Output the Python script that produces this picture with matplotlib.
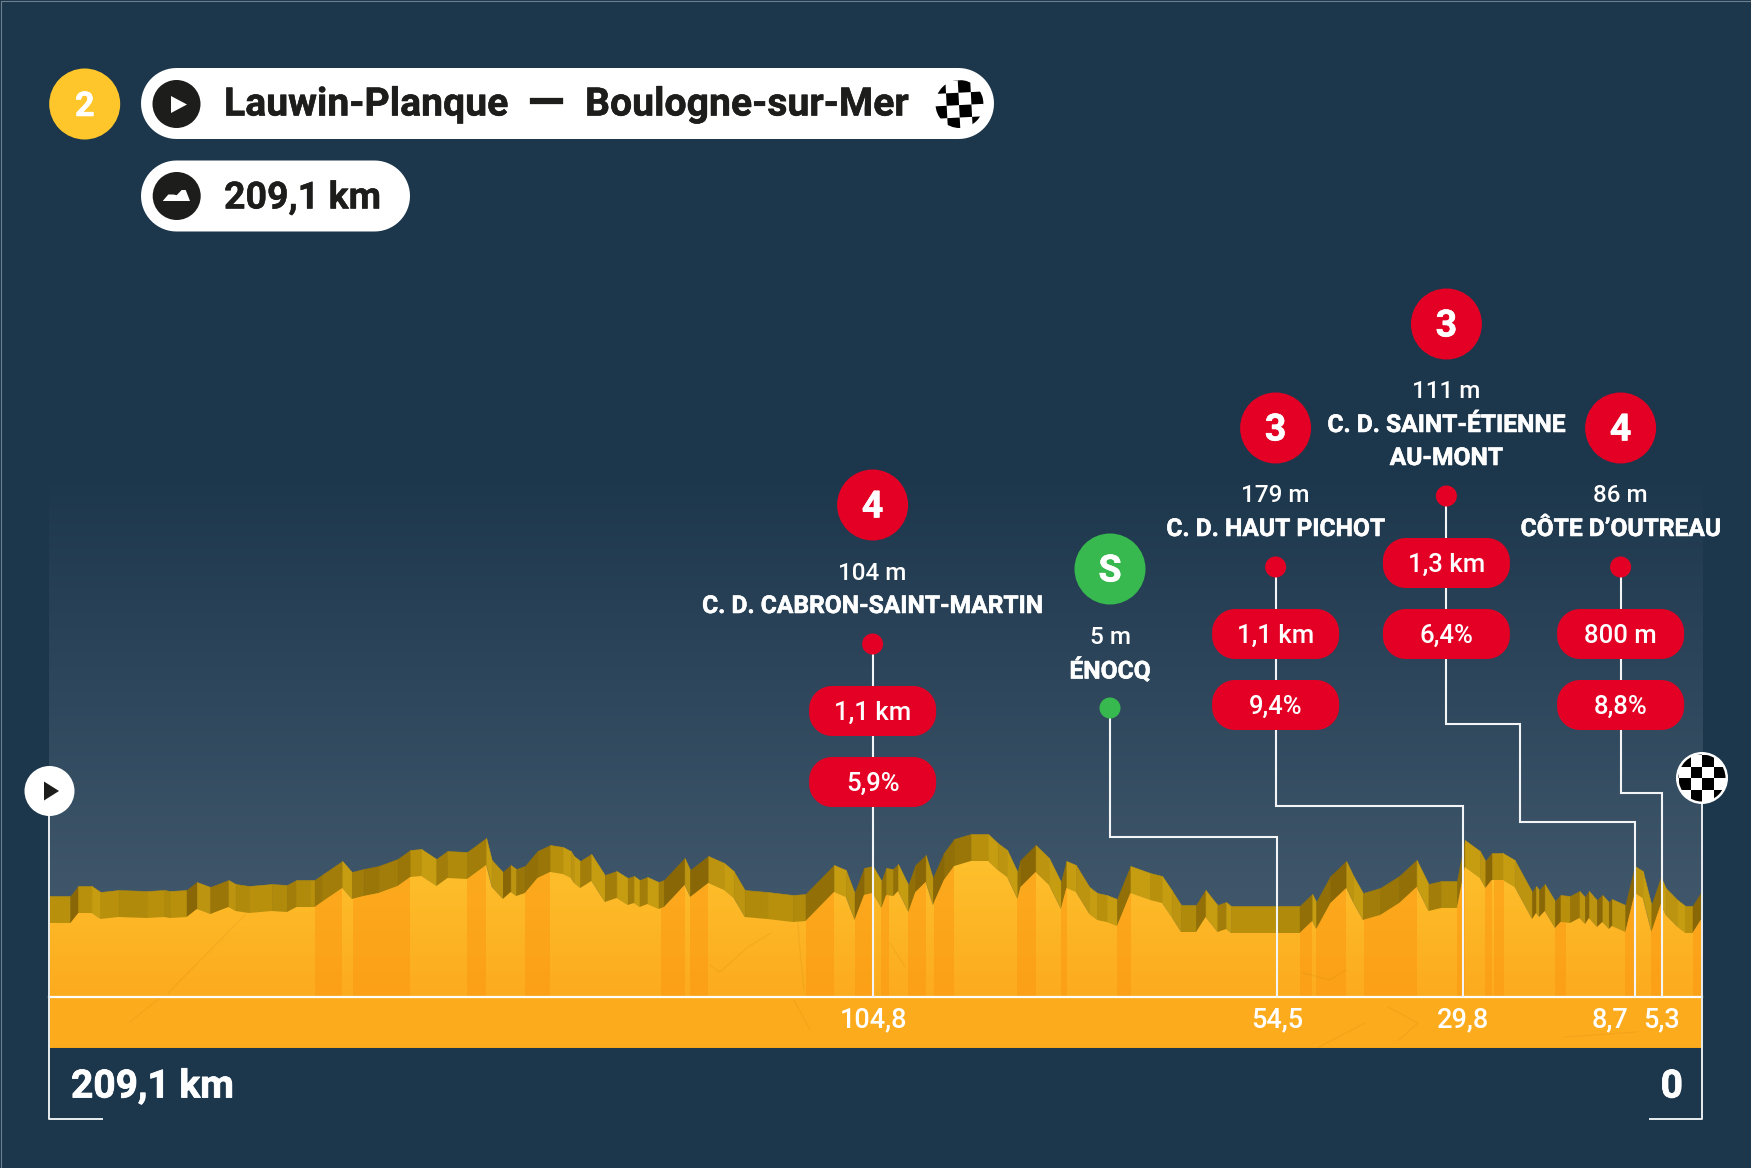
import numpy as np
import matplotlib
matplotlib.use("Agg")
import matplotlib.pyplot as plt
import matplotlib.patheffects as pe
from matplotlib.colors import to_rgb
from matplotlib.patches import Circle, Polygon, Rectangle
from matplotlib.transforms import Affine2D

# profil : km restants, altitude
profile_km = [209.1, 206.4, 205.4, 203.7, 202.6, 200.3, 196.7, 194.5, 193.8, 191.7, 190.4, 188.7, 186.4, 185.5,
              183.8, 180.9, 179.0, 177.8, 176.1, 175.5, 174.6, 172.0, 170.8, 169.3, 167.4, 165.0, 163.4, 162.0,
              160.1, 158.7, 156.2, 153.8, 153.1, 151.7, 150.7, 150.0, 148.9, 147.3, 145.7, 144.1, 143.1, 142.7,
              141.9, 140.5, 138.8, 137.3, 135.9, 135.1, 134.4, 133.4, 132.0, 131.3, 128.7, 128.0, 125.7, 123.7,
              122.5, 121.1, 118.2, 115.0, 113.4, 109.8, 108.3, 107.2, 106.0, 104.9, 103.8, 103.2, 102.3, 101.7,
              100.4, 99.5, 98.2, 97.3, 95.9, 94.6, 92.5, 90.3, 89.1, 87.9, 86.6, 86.2, 84.3, 82.6, 81.1, 80.4,
              79.2, 77.5, 76.5, 75.3, 74.0, 72.3, 69.8, 68.3, 67.1, 65.9, 64.0, 62.8, 61.3, 60.2, 59.6, 53.8,
              50.9, 49.3, 48.8, 47.0, 45.0, 44.1, 42.9, 40.7, 38.3, 36.1, 34.6, 33.0, 31.0, 30.0, 28.1, 27.4,
              26.6, 25.2, 23.7, 21.5, 21.0, 20.6, 19.9, 18.6, 17.9, 16.7, 15.5, 14.8, 14.3, 13.3, 12.6, 11.8,
              11.4, 9.7, 8.5, 7.5, 6.4, 5.2, 4.6, 3.1, 2.1, 1.2, 0.0]
profile_alt = [73, 73, 83, 83, 77, 79, 78, 79, 78, 79, 87, 82, 89, 85,
               83, 85, 84, 89, 89, 89, 94, 108, 97, 100, 103, 110, 119, 120,
               110, 118, 117, 131, 109, 97, 104, 100, 103, 118, 124, 122, 118, 113,
               108, 115, 94, 98, 91, 93, 89, 92, 87, 89, 111, 99, 113, 106,
               98, 79, 77, 74, 75, 104, 99, 76, 101, 103, 88, 101, 100, 105,
               84, 104, 114, 91, 116, 130, 135, 135, 126, 119, 97, 109, 124, 111, 87, 108,
               104, 82, 76, 74, 70, 103, 96, 93, 79, 64, 64, 79, 64, 67, 63, 63,
               63, 75, 67, 93, 108, 93, 76, 81, 93, 109, 85, 88, 88, 129, 118, 108,
               116, 116, 109, 77, 83, 79, 85, 68, 74, 73, 78, 72, 78, 69, 74, 67,
               70, 64, 103, 98, 64, 92, 81, 69, 63, 63, 78]

# zones de pente (km)
band_start = [175.5, 170.6, 156.2, 148.9, 131.7, 128.0, 113.4, 107.2, 103.8, 100.4, 97.2, 86.6, 81.1, 74.0,
              50.9, 48.8, 42.7, 31.0, 27.4, 26.3, 18.6, 9.7, 6.4, 1.1]
band_end = [172.0, 163.4, 153.8, 145.7, 128.7, 125.7, 109.8, 104.9, 102.8, 98.2, 94.6, 84.3, 80.3, 72.2,
            49.3, 45.0, 36.1, 30.0, 26.6, 25.1, 17.2, 8.5, 5.2, 0.0]

tick_labels = ["104,8", "54,5", "29,8", "8,7", "5,3"]
tick_km = [104.8, 53.7, 30.2, 8.5, 5.1]
tick_label_shift = [0, 0, 0, -25, 0]

climb_cat = ["4", "S", "3", "3", "4"]
climb_alt = ["104 m", "5 m", "179 m", "111 m", "86 m"]
climb_name = ["C. D. CABRON-SAINT-MARTIN", "ÉNOCQ", "C. D. HAUT PICHOT", "C. D. SAINT-ÉTIENNE\nAU-MONT", "CÔTE D’OUTREAU"]
climb_len = ["1,1 km", None, "1,1 km", "1,3 km", "800 m"]
climb_pct = ["5,9%", None, "9,4%", "6,4%", "8,8%"]

W, H = 1751, 1168
BG = "#1c364c"
RED = "#e30024"
GREEN = "#38b94f"
INK = "#1d1d1b"
BASE_Y, BAND_Y = 996, 1048
LEFT, RIGHT = 49, 1702
TOP_Y = 470

TXT = ["Roboto", "DejaVu Sans"]

fig = plt.figure(figsize=(W / 100, H / 100), dpi=100, facecolor=BG)

# axe du profil : 1 m = 1 px
ax = fig.add_axes([LEFT / W, (H - BAND_Y) / H, (RIGHT - LEFT) / W, (BAND_Y - TOP_Y) / H])
ax.axis("off")
km = np.array(profile_km, dtype=float)
alt = np.array(profile_alt, dtype=float)
y_low, y_high = BASE_Y - BAND_Y, BASE_Y - TOP_Y
x_lim = (profile_km[0], profile_km[-1])


def vgrad(top, bottom, n=256, stop=1.0):
    t = np.clip(np.linspace(0, 1, n) / stop, 0, 1)[:, None, None]
    return np.array(to_rgb(top))[None, None, :] * (1 - t) + np.array(to_rgb(bottom))[None, None, :] * t


# fond dégradé
ax.imshow(vgrad(BG, "#40576b", stop=0.82), extent=(x_lim[0], x_lim[1], 0, y_high), aspect="auto", zorder=1)

# ruban du relief
RIB = 27
for i in range(len(km) - 1):
    slope = (alt[i + 1] - alt[i]) / (km[i] - km[i + 1])
    if slope > 6:
        col = "#8a6706" if i % 2 else "#927007"
    elif slope > 1:
        col = "#9a7608" if i % 2 else "#a27d09"
    elif slope > -2.5:
        col = "#b08a0a" if i % 2 else "#b8900b"
    else:
        col = "#c69c10" if i % 2 else "#bc9410"
    ax.fill_between(km[i:i + 2], alt[i:i + 2], alt[i:i + 2] + RIB, color=col, lw=0.4, zorder=2)

# corps du profil
body = Polygon(np.column_stack([np.r_[km[0], km, km[-1]], np.r_[0, alt, 0]]), closed=True, fc="none", ec="none",
               transform=ax.transData, zorder=3)
ax.add_patch(body)
im = ax.imshow(vgrad("#fec02c", "#fcab1e"), extent=(x_lim[0], x_lim[1], 0, alt.max()), aspect="auto", zorder=3)
im.set_clip_path(body)
for s, e in zip(band_start, band_end):
    sp = ax.axvspan(s, e, ymin=0, ymax=1, color="#fb9410", alpha=0.48, lw=0, zorder=4)
    sp.set_clip_path(body)

# bande des km
ax.axhspan(y_low, 0, color="#fcab1c", lw=0, zorder=3)
ax.axhline(y_low + 0.5, color="#8a6d24", lw=0.8, zorder=4)
ax.set_xlim(*x_lim)
ax.set_ylim(y_low, y_high)

# calque de décor en pixels
ov = fig.add_axes([0, 0, 1, 1], facecolor="none")
ov.set_xlim(0, W)
ov.set_ylim(H, 0)
ov.axis("off")
ov.plot([0.5, 0.5, W], [H, 0.5, 0.5], color="#6f7f8c", lw=0.8)

# fissures de la texture
cracks = [[(245, 915), (168, 993)], [(130, 1022), (161, 997)],
          [(771, 933), (748, 947), (720, 972), (710, 965)], [(798, 923), (800, 950), (804, 990)],
          [(794, 1000), (810, 1030)], [(890, 943), (905, 967)], [(1303, 973), (1330, 980), (1345, 970)],
          [(1388, 1007), (1418, 1023), (1399, 1040)], [(1319, 1047), (1365, 1023)], [(1564, 1037), (1637, 1032)]]
for c in cracks:
    ov.plot(*zip(*c), color="#b8780a", lw=1, alpha=0.12, zorder=4)


def km_x(v):
    return ov.transData.inverted().transform(ax.transData.transform((v, 0)))[0]


def pill(x0, x1, yc, h, color, r=None, z=6):
    # rectangle à bouts ronds
    r = h / 2 if r is None else r
    t = np.linspace(0, np.pi / 2, 16)
    y0, y1 = yc - h / 2, yc + h / 2
    pts = np.vstack([
        np.column_stack([x1 - r + r * np.sin(t), y0 + r - r * np.cos(t)]),
        np.column_stack([x1 - r + r * np.cos(t), y1 - r + r * np.sin(t)]),
        np.column_stack([x0 + r - r * np.sin(t), y1 - r + r * np.cos(t)]),
        np.column_stack([x0 + r - r * np.cos(t), y0 + r - r * np.sin(t)]),
    ])
    ov.add_patch(Polygon(pts, closed=True, fc=color, ec="none", zorder=z))


def checker(cx, cy, r, x0, y0, cell, parity, angle=0, z=8):
    # damier dans un cercle
    clip = Circle((cx, cy), r, transform=ov.transData)
    tr = Affine2D().rotate_deg_around(cx, cy, angle) + ov.transData
    for a in range(-4, 4):
        for b in range(-4, 4):
            if (a + b) % 2 == parity:
                c = Rectangle((x0 + a * cell, y0 + b * cell), cell, cell, fc="black", ec="none", transform=tr, zorder=z)
                ov.add_patch(c)
                c.set_clip_path(clip)


def label(x, y, s, size, color="white", ha="center", stroke=0.0):
    t = ov.text(x, y, s, color=color, ha=ha, va="center", fontsize=size, family=TXT, fontweight="bold" if stroke else "medium", zorder=9)
    if stroke:
        t.set_path_effects([pe.withStroke(linewidth=stroke, foreground=color)])
    return t


# lignes d'axe
ov.plot([LEFT, RIGHT], [BASE_Y + 0.5, BASE_Y + 0.5], color="white", lw=1.6, zorder=5)
ov.plot([LEFT, LEFT, 102], [791, 1119, 1119], color="#e8ecef", lw=1.4, zorder=5)
ov.plot([RIGHT, RIGHT, 1650], [778, 1119, 1119], color="#e8ecef", lw=1.4, zorder=5)

# en-tête
ov.add_patch(Circle((84.7, 104), 35.5, fc="#fec62a", ec="none"))
label(84.7, 107, "2", 24.5, stroke=0.4)
pill(141, 994, 103.5, 71, "white")
pill(141, 410, 196, 71, "white")
ov.add_patch(Circle((176.5, 104), 24, fc=INK, ec="none", zorder=7))
ov.add_patch(Polygon([(171, 96), (187, 104.5), (171, 113)], closed=True, fc="white", ec="none", zorder=8))
ov.add_patch(Circle((176.7, 196), 24, fc=INK, ec="none", zorder=7))
ov.add_patch(Polygon([(162.7, 201), (168.3, 194.5), (173.3, 194.5), (176.7, 195.2), (181.7, 190), (185.7, 190), (190, 201)],
                     closed=True, fc="white", ec="none", zorder=8))
checker(959.5, 104, 24, 959, 92.7, 12.4, 1, angle=-3)
label(224, 105, "Lauwin-Planque", 28.2, color=INK, ha="left", stroke=0.4)
label(546.5, 105, "—", 35, color=INK, stroke=0.2)
label(585, 105, "Boulogne-sur-Mer", 28.2, color=INK, ha="left", stroke=0.4)
label(224, 198, "209,1 km", 27, color=INK, ha="left", stroke=0.3)

# départ / arrivée
ov.add_patch(Circle((LEFT + 0.5, 791), 25, fc="white", ec="none", zorder=7))
ov.add_patch(Polygon([(44, 781.5), (59, 791), (44, 800.5)], closed=True, fc=INK, ec="none", zorder=8))
ov.add_patch(Circle((RIGHT, 778), 26, fc="white", ec="none", zorder=7))
checker(RIGHT, 778, 23.5, 1702.3, 778.3, 11.7, 0)

# repères km
for lab, k, sh in zip(tick_labels, tick_km, tick_label_shift):
    label(km_x(k) + sh, 1020, lab, 19.5)

label(71, 1087, "209,1 km", 28, ha="left", stroke=0.6)
label(1683, 1087, "0", 28, ha="right", stroke=0.6)

# ascensions : position des étiquettes
label_x = [872.6, 1110, 1275.6, 1446.4, 1620.6]
label_y = [505, 569, 428, 324, 428]
route_y = [[], [836.5], [806], [724, 821.7], [793]]
route_x = [[], [], [], [1519.5], []]

for i in range(5):
    x, y = label_x[i], label_y[i]
    col = GREEN if climb_cat[i] == "S" else RED
    ov.add_patch(Circle((x, y), 35.5, fc=col, ec="none", zorder=6))
    label(x, y + 2, climb_cat[i], 27, stroke=0.4)
    label(x, y + 68, climb_alt[i], 17.5)
    lines = climb_name[i].split("\n")
    for j, name in enumerate(lines):
        label(x, y + 101 + 33 * j, name, 17.7, stroke=0.4)
    dot_y = y + 139 + 33 * (len(lines) - 1)
    ov.add_patch(Circle((x, dot_y), 10.5, fc=col, ec="none", zorder=7))
    if climb_len[i]:
        for lab, yy in zip([climb_len[i], climb_pct[i]], [dot_y + 67, dot_y + 138]):
            pill(x - 63.5, x + 63.5, yy, 50, RED, r=23, z=7)
            label(x, yy + 2, lab, 18.5)
    # tracé vers le repère km
    tick = km_x(tick_km[i])
    xs, ys = [x], [dot_y]
    if i == 3:
        xs += [x, route_x[3][0], route_x[3][0], tick, tick]
        ys += [route_y[3][0], route_y[3][0], route_y[3][1], route_y[3][1], BASE_Y]
    elif route_y[i]:
        xs += [x, tick, tick]
        ys += [route_y[i][0], route_y[i][0], BASE_Y]
    else:
        xs += [x]
        ys += [BASE_Y]
    ov.plot(xs, ys, color="#f2f4f5", lw=1.5, zorder=5, solid_joinstyle="miter")

fig.savefig("out.png", dpi=100, facecolor=BG)
